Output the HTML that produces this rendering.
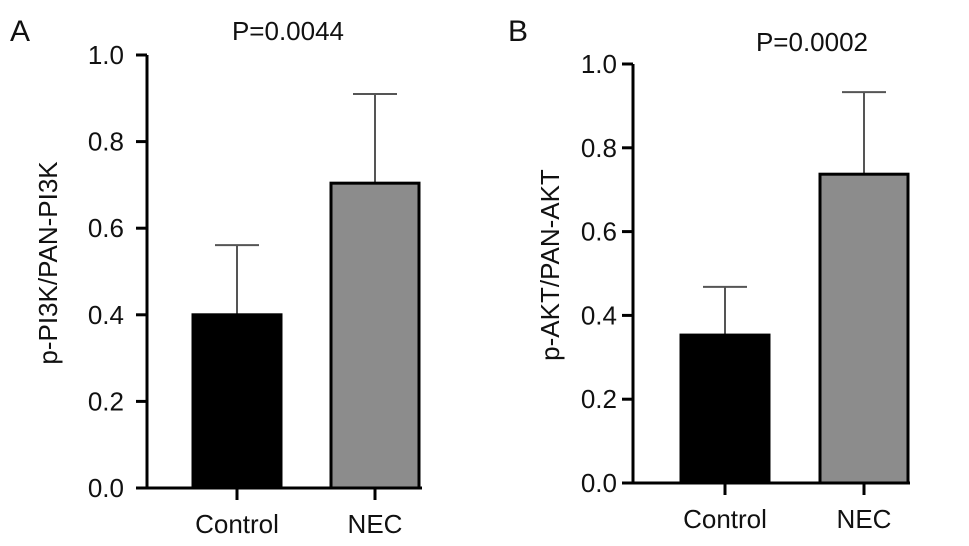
<!DOCTYPE html>
<html><head><meta charset="utf-8"><style>
html,body{margin:0;padding:0;background:#fff}
svg{display:block;font-family:"Liberation Sans",Arial,sans-serif}
</style></head><body>
<svg id="chart" width="969" height="546" viewBox="0 0 969 546" xmlns="http://www.w3.org/2000/svg"></svg>
<script>
const categories = ["Control", "NEC"];
const valuesA = [0.40, 0.704];
const errorsA = [0.161, 0.206];
const valuesB = [0.353, 0.737];
const errorsB = [0.115, 0.196];
const tickLabels = ["0.0", "0.2", "0.4", "0.6", "0.8", "1.0"];
const tickValues = [0, 0.2, 0.4, 0.6, 0.8, 1.0];
const fills = ["#000000", "#8c8c8c"];

const NS = "http://www.w3.org/2000/svg";
const svg = document.getElementById("chart");
function mk(tag, attrs, parent, text) {
  const e = document.createElementNS(NS, tag);
  for (const k in attrs) e.setAttribute(k, attrs[k]);
  if (text !== undefined) e.textContent = text;
  (parent || svg).appendChild(e);
  return e;
}

function panel(cfg) {
  const g = mk("g", {});
  
  
  const y = v => cfg.y0 - v * (cfg.y0 - cfg.y1);
  const x = i => cfg.centers[i];
  cfg.values.forEach((v, i) => {
    const top = y(v), eTop = y(v + cfg.errors[i]);
    const el = mk("line", {x1: x(i), x2: x(i), y1: top, y2: eTop, stroke: "#555", "stroke-width": 2}, g);
    
    
    const cap = mk("line", {x1: x(i) - 22, x2: x(i) + 22, y1: eTop, y2: eTop, stroke: "#555", "stroke-width": 2}, g);
    
    
    const r = mk("rect", {x: x(i) - 44, y: top, width: 88, height: cfg.y0 - top, fill: fills[i], stroke: "#000", "stroke-width": 3}, g);
    
    
    const t = mk("line", {x1: x(i), x2: x(i), y1: cfg.y0, y2: cfg.y0 + 12, stroke: "#000", "stroke-width": 3}, g);
    
    
    const lb = mk("text", {x: x(i), y: cfg.y0 + 45, "font-size": 26, "text-anchor": "middle", fill: "#111"}, g, categories[i]);
    
    
  });
  const ya = mk("line", {x1: cfg.ax, x2: cfg.ax, y1: cfg.y1, y2: cfg.y0 + 1.5, stroke: "#000", "stroke-width": 3}, g);
  
  
  const xa = mk("line", {x1: cfg.ax - 11, x2: cfg.xEnd, y1: cfg.y0, y2: cfg.y0, stroke: "#000", "stroke-width": 3}, g);
  
  
  tickValues.forEach((v, i) => {
    const t = mk("line", {x1: cfg.ax - 11, x2: cfg.ax, y1: y(v), y2: y(v), stroke: "#000", "stroke-width": 3}, g);
    
    
    const l = mk("text", {x: cfg.ax - cfg.labelGap, y: y(v) + 9, "font-size": 26, "text-anchor": "end", fill: "#111"}, g, tickLabels[i]);
    
    
  });
  const cy = cfg.titleY;
  const yt = mk("text", {x: cfg.titleX, y: cy, "font-size": 26, "text-anchor": "middle", fill: "#111", transform: `rotate(-90 ${cfg.titleX} ${cy})`}, g, cfg.title);
  
  
  const p = mk("text", {x: cfg.pX, y: cfg.pY, "font-size": 26, "text-anchor": "middle", fill: "#111"}, g, cfg.p);
  
  
  const L = mk("text", {x: cfg.letterX, y: 41, "font-size": 30, fill: "#111"}, g, cfg.letter);
  
  
}

panel({name: "panel-a", values: valuesA, errors: errorsA, y0: 488, y1: 55, ax: 147, xEnd: 422, labelGap: 23,
  centers: [237, 375], title: "p-PI3K/PAN-PI3K", titleX: 57, titleY: 263, p: "P=0.0044", pX: 288, pY: 40, letter: "A", letterX: 10});
panel({name: "panel-b", values: valuesB, errors: errorsB, y0: 483, y1: 64, ax: 633, xEnd: 910, labelGap: 16,
  centers: [725, 864], title: "p-AKT/PAN-AKT", titleX: 559, titleY: 265, p: "P=0.0002", pX: 812, pY: 51, letter: "B", letterX: 508});
</script>
</body></html>
